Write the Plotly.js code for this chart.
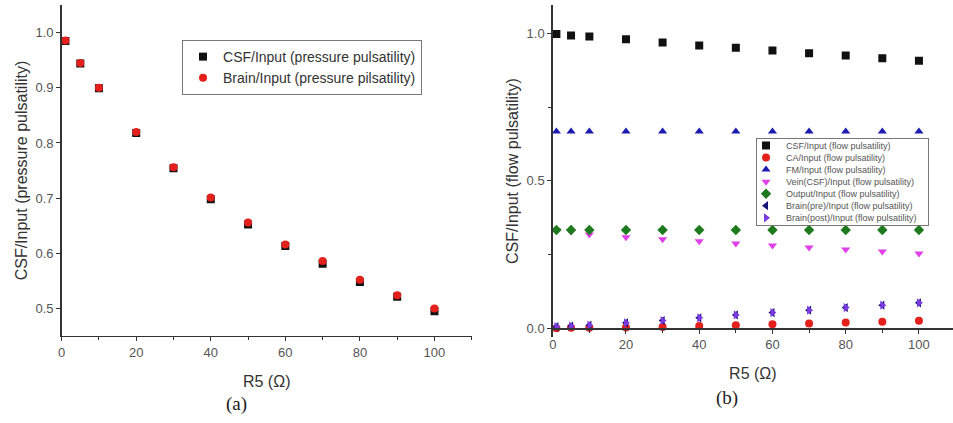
<!DOCTYPE html>
<html>
<head>
<meta charset="utf-8">
<script src="https://cdn.plot.ly/plotly-3.0.1.min.js"></script>
<style>html,body{margin:0;padding:0;background:#fff;}#chart{width:953px;height:423px;}</style>
</head>
<body>
<div id="chart"></div>
<script>
// R5 resistance values (Ohm)
const r5 = [1, 5, 10, 20, 30, 40, 50, 60, 70, 80, 90, 100];

// (a) pressure pulsatility
const csfPressure   = [0.985, 0.944, 0.899, 0.818, 0.754, 0.698, 0.652, 0.613, 0.581, 0.548, 0.521, 0.495];
const brainPressure = [0.986, 0.945, 0.900, 0.820, 0.756, 0.701, 0.656, 0.616, 0.586, 0.552, 0.524, 0.500];

// (b) flow pulsatility
const csfFlow       = [0.998, 0.993, 0.989, 0.980, 0.969, 0.959, 0.951, 0.942, 0.933, 0.925, 0.916, 0.907];
const caFlow        = [0.000, 0.001, 0.001, 0.002, 0.004, 0.007, 0.010, 0.013, 0.016, 0.019, 0.022, 0.025];
const fmFlow        = [0.667, 0.667, 0.667, 0.667, 0.667, 0.667, 0.667, 0.667, 0.667, 0.667, 0.667, 0.667];
const veinFlow      = [0.332, 0.328, 0.318, 0.308, 0.302, 0.295, 0.287, 0.280, 0.274, 0.267, 0.260, 0.253];
const outputFlow    = [0.333, 0.333, 0.333, 0.333, 0.333, 0.333, 0.333, 0.333, 0.333, 0.333, 0.333, 0.333];
const brainPreFlow  = [0.005, 0.007, 0.010, 0.018, 0.026, 0.035, 0.045, 0.053, 0.061, 0.070, 0.078, 0.086];
const brainPostFlow = [0.005, 0.007, 0.010, 0.018, 0.026, 0.035, 0.045, 0.053, 0.061, 0.070, 0.078, 0.086];

const namesA = ['CSF/Input (pressure pulsatility)', 'Brain/Input (pressure pilsatility)'];
const namesB = ['CSF/Input (flow pulsatility)', 'CA/Input (flow pulsatility)', 'FM/Input (flow pulsatility)',
  'Vein(CSF)/Input (flow pulsatility)', 'Output/Input (flow pulsatility)',
  'Brain(pre)/Input (flow pulsatility)', 'Brain(post)/Input (flow pulsatility)'];

const FONT = 'Arial, "Liberation Sans", sans-serif';
const SERIF = '"Liberation Serif", "DejaVu Serif", serif';

function mk(x, y, name, sym, color, xa, ya, leg) {
  return {x: x, y: y, name: name, type: 'scatter', mode: 'markers',
    xaxis: xa, yaxis: ya, legend: leg,
    marker: {symbol: sym, color: color, size: 8, line: {width: 0}}};
}

const traces = [
  mk(r5, csfPressure, namesA[0], 'square', '#111111', 'x', 'y', 'legend'),
  mk(r5, brainPressure, namesA[1], 'circle', '#e3201b', 'x', 'y', 'legend'),
  mk(r5, csfFlow, namesB[0], 'square', '#111111', 'x2', 'y2', 'legend2'),
  mk(r5, caFlow, namesB[1], 'circle', '#e3201b', 'x2', 'y2', 'legend2'),
  mk(r5, fmFlow, namesB[2], 'triangle-up', '#1c1cb0', 'x2', 'y2', 'legend2'),
  mk(r5, veinFlow, namesB[3], 'triangle-down', '#e040e8', 'x2', 'y2', 'legend2'),
  mk(r5, outputFlow, namesB[4], 'diamond', '#1e7a1e', 'x2', 'y2', 'legend2'),
  mk(r5, brainPreFlow, namesB[5], 'triangle-left', '#14147a', 'x2', 'y2', 'legend2'),
  mk(r5, brainPostFlow, namesB[6], 'triangle-right', '#7a3ae0', 'x2', 'y2', 'legend2')
];

const axisCommon = {
  showline: true, linecolor: '#333', linewidth: 1.5, mirror: false,
  ticks: 'outside', ticklen: 4, tickwidth: 1, tickcolor: '#333',
  showgrid: false, zeroline: false, automargin: false,
  tickfont: {family: FONT, size: 13, color: '#555'}
};

const layout = {
  width: 953, height: 423,
  margin: {l: 0, r: 0, t: 0, b: 0},
  paper_bgcolor: '#fff', plot_bgcolor: 'rgba(0,0,0,0)',
  font: {family: FONT, color: '#333'},
  showlegend: true,
  xaxis: Object.assign({}, axisCommon, {
    domain: [0.0647, 0.495], range: [0, 110], anchor: 'y',
    tick0: 0, dtick: 20, minor: {dtick: 10, ticks: 'outside', ticklen: 3, tickcolor: '#333'},
    title: {text: 'R5 (Ω)', standoff: 16, font: {family: FONT, size: 16, color: '#333'}}
  }),
  yaxis: Object.assign({}, axisCommon, {
    domain: [0.2057, 0.988], range: [0.45, 1.05], anchor: 'x',
    tick0: 0.5, dtick: 0.1, tickformat: '.1f',
    title: {text: 'CSF/Input (pressure pulsatility)', standoff: 4, font: {family: FONT, size: 16, color: '#333'}}
  }),
  xaxis2: Object.assign({}, axisCommon, {
    domain: [0.58, 1.0], range: [0, 109.3], anchor: 'free', position: 0.2242,
    tick0: 0, dtick: 20, minor: {dtick: 10, ticks: 'outside', ticklen: 3, tickcolor: '#333'},
    title: {text: 'R5 (Ω)', standoff: 16, font: {family: FONT, size: 16, color: '#333'}}
  }),
  yaxis2: Object.assign({}, axisCommon, {
    domain: [0.2033, 0.988], range: [-0.03, 1.096], anchor: 'x2',
    tick0: 0, dtick: 0.5, tickformat: '.1f',
    minor: {dtick: 0.25, ticks: 'outside', ticklen: 3, tickcolor: '#333'},
    title: {text: 'CSF/Input (flow pulsatility)', standoff: 4, font: {family: FONT, size: 16, color: '#333'}}
  }),
  legend: {
    x: 0.191, y: 0.9054, xanchor: 'left', yanchor: 'top',
    bgcolor: '#fff', bordercolor: '#777', borderwidth: 1,
    font: {family: FONT, size: 14, color: '#333'}, itemwidth: 30
  },
  legend2: {
    x: 0.7933, y: 0.6738, xanchor: 'left', yanchor: 'top',
    bgcolor: '#fff', bordercolor: '#777', borderwidth: 1,
    font: {family: FONT, size: 9, color: '#555'}, itemwidth: 30
  },
  annotations: [
    {text: '(a)', xref: 'paper', yref: 'paper', x: 236 / 953, y: 1 - 404 / 423,
     xanchor: 'center', yanchor: 'middle', showarrow: false,
     font: {family: SERIF, size: 19, color: '#222'}},
    {text: '(b)', xref: 'paper', yref: 'paper', x: 727 / 953, y: 1 - 398 / 423,
     xanchor: 'center', yanchor: 'middle', showarrow: false,
     font: {family: SERIF, size: 19, color: '#222'}}
  ]
};

// Tighten the row spacing of the dense right-hand legend (Plotly enforces a 19px minimum row)
function compactLegend(gd) {
  const lg = gd.querySelector('g.legend2');
  if (!lg) return;
  const items = lg.querySelectorAll('g.traces');
  const rowH = 12.05, firstY = 7.5;
  items.forEach(function (t, i) {
    t.setAttribute('transform', 'translate(-10,' + (firstY + i * rowH) + ')');
  });
  const boxH = firstY * 2 + rowH * (items.length - 1);
  lg.querySelectorAll('rect.bg').forEach(function (r) {
    r.setAttribute('height', boxH);
    r.setAttribute('width', 172);
  });
  const sb = lg.querySelector('g.scrollbox');
  if (sb) sb.removeAttribute('clip-path');
}

Plotly.newPlot('chart', traces, layout, {staticPlot: true, displayModeBar: false})
  .then(function (gd) { compactLegend(gd); });
</script>
</body>
</html>
